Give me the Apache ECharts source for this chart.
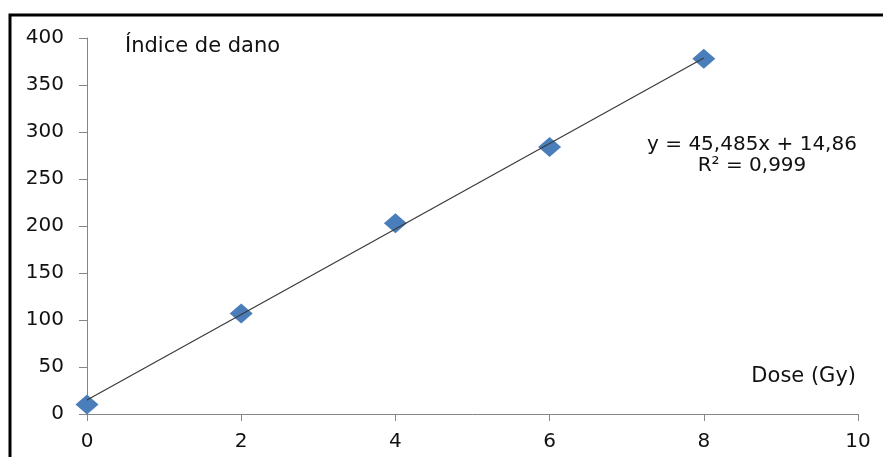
<!DOCTYPE html>
<html>
<head>
<meta charset="utf-8">
<script src="https://cdn.jsdelivr.net/npm/echarts@6/dist/echarts.min.js"></script>
<style>
  html, body { margin: 0; padding: 0; background: #fff; }
  #chart { width: 883px; height: 457px; }
</style>
</head>
<body>
<div id="chart"></div>
<script>
// dados
const doses = [0, 2, 4, 6, 8];
const indice = [10, 107, 203, 284, 378];
// linha de tendencia (y = a x + b)
const slope = 45.485;
const intercept = 14.86;
const trendX = [0, 8];
const xTicks = [0, 2, 4, 6, 8, 10];
const yTicks = [0, 50, 100, 150, 200, 250, 300, 350, 400];

const font = "DejaVu Sans";
const axisGray = "#868686";

const chart = echarts.init(document.getElementById("chart"));

const option = {
  animation: false,
  grid: { left: 87, right: 25, top: 38, bottom: 43 },
  xAxis: {
    type: "value",
    min: xTicks[0],
    max: xTicks[xTicks.length - 1],
    interval: 2,
    axisLine: { show: true, lineStyle: { color: axisGray, width: 1 } },
    axisTick: { show: true, length: 7, lineStyle: { color: axisGray } },
    axisLabel: { margin: 18, fontFamily: font, fontSize: 20, color: "#111" },
    splitLine: { show: false },
  },
  yAxis: {
    type: "value",
    min: yTicks[0],
    max: yTicks[yTicks.length - 1],
    interval: 50,
    axisLine: { show: true, lineStyle: { color: axisGray, width: 1 } },
    axisTick: { show: true, length: 8, lineStyle: { color: axisGray } },
    axisLabel: { margin: 23, fontFamily: font, fontSize: 20, color: "#111" },
    splitLine: { show: false },
  },
  series: [
    {
      type: "line",
      data: trendX.map((x) => [x, slope * x + intercept]),
      symbol: "none",
      lineStyle: { color: "#3a3a3a", width: 1.2 },
      z: 3,
    },
    {
      type: "scatter",
      data: doses.map((d, i) => [d, indice[i]]),
      symbol: "diamond",
      symbolSize: [23, 20],
      itemStyle: { color: "#4a7ebb", opacity: 1 },
      z: 2,
    },
  ],
  graphic: [
    {
      type: "rect",
      shape: { x: 10, y: 15, width: 900, height: 500 },
      style: { fill: "none", stroke: "#000", lineWidth: 3 },
      silent: true,
    },
    {
      type: "text",
      x: 125,
      y: 47,
      style: {
        text: "Índice de dano",
        font: "21px " + font,
        fill: "#111",
        verticalAlign: "middle",
      },
    },
    {
      type: "text",
      x: 752,
      y: 155,
      style: {
        text: "y = 45,485x + 14,86\nR² = 0,999",
        font: "20px " + font,
        fill: "#111",
        align: "center",
        verticalAlign: "middle",
        lineHeight: 21,
      },
    },
    {
      type: "text",
      x: 856,
      y: 377,
      style: {
        text: "Dose (Gy)",
        font: "21px " + font,
        fill: "#111",
        align: "right",
        verticalAlign: "middle",
      },
    },
  ],
};

chart.setOption(option);
</script>
</body>
</html>
